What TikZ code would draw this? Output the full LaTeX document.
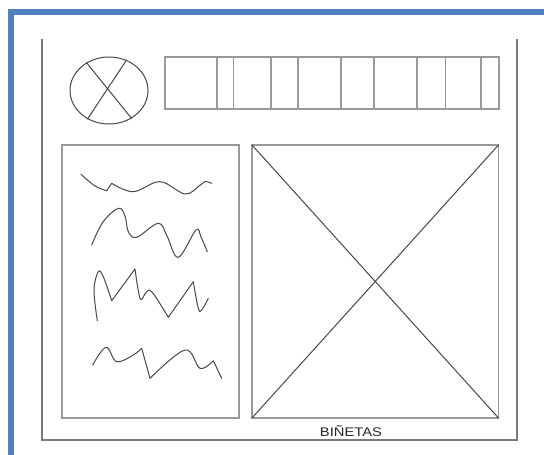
\documentclass[tikz,border=0pt]{standalone}
\usepackage{fontspec}
\setsansfont{Liberation Sans}
\usepackage{tikz}
\usetikzlibrary{shapes.geometric}

\definecolor{barblue}{HTML}{4F81BD}

\begin{document}
\begin{tikzpicture}[x=1pt, y=-1pt,
  bar/.style={fill=barblue},
  frame/.style={draw=black!52, line width=1.3pt},
  panel/.style={draw=black!40, line width=1.6pt},
  sketch/.style={draw=black!72, line width=1pt, line cap=round, line join=round}
]
  \useasboundingbox (0,0) rectangle (544,455);
  % Blue border
  \fill[bar] (8,9) rectangle (544,15);
  \fill[bar] (8,9) rectangle (14,455);
  % Page
  \draw[frame] (42,39) -- (42,440) -- (517,440) -- (517,39);
  % Logo
  \node[ellipse, sketch, minimum width=78, minimum height=67, inner sep=0pt] (logo) at (109,90.5) {};
  \draw[sketch] (logo.129) -- (logo.309);
  \draw[sketch] (logo.60) -- (logo.233);
  % Menu strip
  \draw[panel] (165,57) rectangle (499,109);
  \foreach \xm in {216.7,233.3,270.7,298,341,374,416.7,445.3,480.7}
    \draw[panel] (\xm,57) -- (\xm,109);
  % Text column
  \draw[panel] (62,145) rectangle (239,418);
  \draw[sketch] plot[smooth, tension=.6] coordinates {(81,174.3) (95,186) (106.7,190.7)}
    -- plot[smooth, tension=.6] coordinates {(106.7,190.7) (111.7,183.3)}
    -- plot[smooth, tension=.6] coordinates {(111.7,183.3) (133.3,191.7) (160,181.7) (185,194) (199,186) (205,181.7) (211.7,183.3)};
  \draw[sketch] plot[smooth, tension=.6] coordinates {(91.7,245) (103,222) (118.3,208.3) (125,216) (128.3,231.7) (136.7,237.3) (158.3,223.3) (167,236) (178.3,257.3) (196,230) (201,237) (207.3,251.7)};
  \draw[sketch] plot[smooth, tension=.6] coordinates {(97.3,320.7) (94,290) (98.3,271.7) (103.3,276.7) (111.7,300.7)}
    -- (135,269)
    -- plot[smooth, tension=.6] coordinates {(135,269) (140,298.3) (145,294) (149,290) (155,296) (168.3,317.3)}
    -- (193.3,281.7)
    -- plot[smooth, tension=.6] coordinates {(193.3,281.7) (198.3,308.3) (201.7,310) (208.3,298.3)};
  \draw[sketch] plot[smooth, tension=.6] coordinates {(92.7,365) (106,347.3) (116.7,361.7) (133.3,355) (141.7,348.3)}
    -- (150,378.3)
    -- plot[smooth, tension=.6] coordinates {(150,378.3) (185,350) (200,368.3) (213.3,360.7)}
    -- (221.7,378.3);
  % Picture panel
  \draw[panel] (252,145) rectangle (498.5,418);
  \draw[sketch] (252,145) -- (498.5,418);
  \draw[sketch] (498.5,145) -- (252,418);
  % Caption
  \node[font=\sffamily\fontsize{12.5}{12.5}\selectfont, text=black!85, xscale=1.18, inner sep=0pt] (caption) at (351,431) {BIÑETAS};
\end{tikzpicture}
\end{document}
